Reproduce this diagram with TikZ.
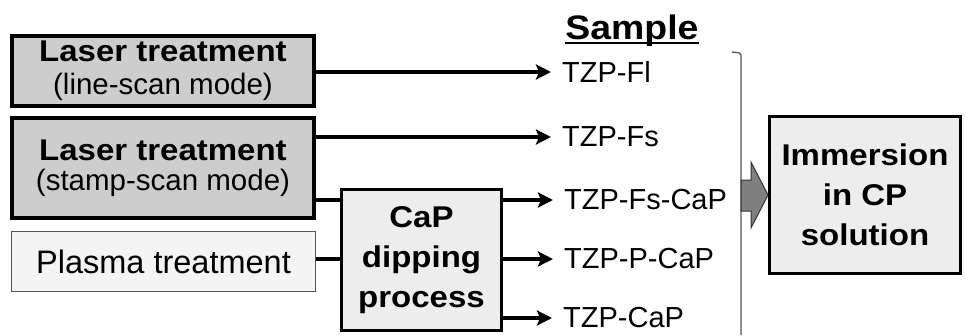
\documentclass[tikz,border=0pt]{standalone}
\usepackage{fontspec}
\setmainfont{Liberation Sans}[BoldFeatures={FakeStretch=1.1}]
\usetikzlibrary{arrows.meta}
\definecolor{laserfill}{HTML}{CDCDCD}
\definecolor{capfill}{HTML}{EDEDED}
\definecolor{plasmafill}{HTML}{F4F4F4}
\definecolor{plasmaedge}{HTML}{555555}
\definecolor{blockfill}{HTML}{7F7F7F}
\definecolor{bracketgray}{HTML}{555555}
\begin{document}
\begin{tikzpicture}[x=1pt,y=-1pt,
  laserbox/.style={draw=black, line width=4pt, fill=laserfill, align=center, inner sep=0,
    minimum width=302pt, font=\fontsize{29.5}{31}\selectfont},
  plasmabox/.style={draw=plasmaedge, line width=1pt, fill=plasmafill, inner sep=0,
    minimum width=304pt, minimum height=60pt},
  procbox/.style={draw=black, line width=3pt, fill=capfill, align=center, inner sep=0,
    font=\bfseries\fontsize{30}{40}\selectfont},
  samplelbl/.style={anchor=west, inner sep=0, font=\fontsize{29}{32}\selectfont},
  conn/.style={line width=3.5pt},
  arr/.style={conn, -{Stealth[length=15pt,width=15pt,inset=3pt]}, shorten >=11pt},
]
\useasboundingbox (0,0) rectangle (966,335);

% left boxes
\node[laserbox, minimum height=70pt] (l1) at (163,71)
  {{\bfseries\fontsize{30}{31}\selectfont Laser treatment}\\[2pt](line-scan mode)};
\node[laserbox, minimum height=100pt] (l2) at (163,168)
  {{\bfseries\fontsize{30}{31}\selectfont Laser treatment}\\[-1pt](stamp-scan mode)};
\node[plasmabox, font=\fontsize{32.5}{34}\selectfont] (pl) at (163.5,261.5)
  {Plasma treatment};

% CaP dipping box
\node[procbox, minimum width=160pt, minimum height=141pt] (cap) at (421.5,260)
  {CaP\\dipping\\process};

% sample labels
\node[inner sep=0, anchor=base, font=\bfseries\fontsize{34}{36}\selectfont] (sample) at (632,39) {Sample};
\draw[line width=2pt] ([yshift=-4pt]sample.base west) -- ([yshift=-4pt]sample.base east);

\node[samplelbl] (fl) at (562,72) {TZP-Fl};
\node[samplelbl] (fs) at (562,137) {TZP-Fs};
\node[samplelbl] (fscap) at (564,200) {TZP-Fs-CaP};
\node[samplelbl] (pcap) at (564,259) {TZP-P-CaP};
\node[samplelbl] (tcap) at (563,318) {TZP-CaP};

% connectors
\draw[arr] (l1.east |- fl.west) -- (fl.west);
\draw[arr] (l2.east |- fs.west) -- (fs.west);
\draw[conn] (l2.east |- fscap.west) -- (cap.west |- fscap.west);
\draw[conn] (pl.east |- pcap.west) -- (cap.west |- pcap.west);
\draw[arr] (cap.east |- fscap.west) -- (fscap.west);
\draw[arr] (cap.east |- pcap.west) -- (pcap.west);
\draw[arr] (cap.east |- tcap.west) -- (tcap.west);

% bracket
\coordinate (brtop) at (741,53);
\coordinate (brbot) at (741,335);
\draw[bracketgray, line width=1.3pt, rounded corners=2pt] (732,52) -- (brtop) -- (brbot);

% immersion box
\node[procbox, minimum width=191pt, minimum height=157pt] (imm) at (865,195)
  {Immersion\\in CP\\solution};

% block arrow
\draw[draw=black!80, line width=1pt, fill=blockfill]
  (741,180) -- (751,180) -- (751,162) -- (imm.west) -- (751,228) -- (751,211) -- (741,211) -- cycle;
\end{tikzpicture}
\end{document}
